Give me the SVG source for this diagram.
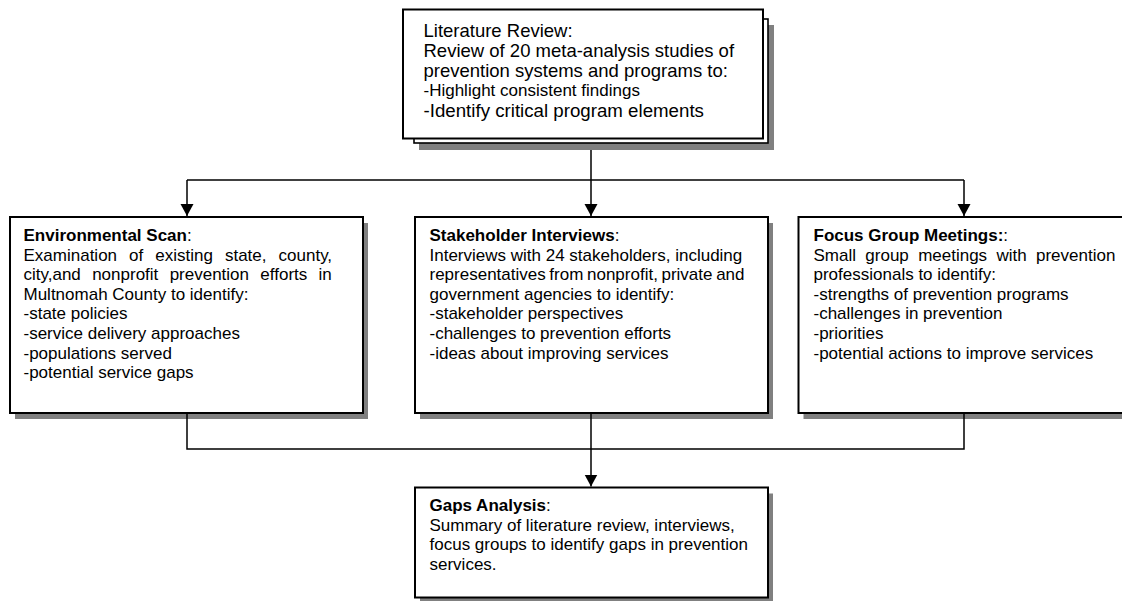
<svg xmlns="http://www.w3.org/2000/svg" width="1122" height="601" viewBox="0 0 1122 601">
<style>
.bg{fill:#fff}
.box{fill:#fff;stroke:#000;stroke-width:2}
.back{fill:#fff;stroke:#000;stroke-width:1.6}
.shadow{fill:#808080}
.t{font-family:"Liberation Sans",Arial,Helvetica,sans-serif;font-size:17px;fill:#000}
.b{font-weight:bold}
.conn{stroke:#000;stroke-width:1.5;fill:none}
</style>
<defs>
<marker id="arr" markerUnits="userSpaceOnUse" markerWidth="13" markerHeight="14" refX="12" refY="6.5" orient="auto">
<path d="M0,0 L12,6.5 L0,13 z" fill="#000"/>
</marker>
</defs>
<rect class="bg" x="0" y="0" width="1122" height="601"/>

<g id="lit-review">
<rect class="shadow" x="419" y="25" width="355" height="125"/>
<rect class="back" x="414" y="19" width="354" height="124"/>
<rect class="box" x="403" y="9.5" width="360" height="129"/>
<text class="t" x="423.5" y="37" style="font-size:18.5px">Literature Review:</text>
<text class="t" x="423.5" y="57" style="font-size:18.5px">Review of 20 meta-analysis studies of</text>
<text class="t" x="423.5" y="76.5" style="font-size:18.5px">prevention systems and programs to:</text>
<text class="t" x="423.5" y="96" style="font-size:17px">-Highlight consistent findings</text>
<text class="t" x="423.5" y="116.5" style="font-size:18.7px">-Identify critical program elements</text>
</g>

<g id="env-scan">
<rect class="shadow" x="15" y="223" width="353" height="196"/>
<rect class="box" x="10" y="217" width="353" height="196"/>
<text class="t" x="23.5" y="241"><tspan class="b">Environmental Scan</tspan>:</text>
<text class="t" x="23.5" y="260.6" word-spacing="7.3">Examination of existing state, county,</text>
<text class="t" x="23.5" y="280.2" word-spacing="6.6">city,and nonprofit prevention efforts in</text>
<text class="t" x="23.5" y="299.8">Multnomah County to identify:</text>
<text class="t" x="23.5" y="319.4">-state policies</text>
<text class="t" x="23.5" y="339">-service delivery approaches</text>
<text class="t" x="23.5" y="358.6">-populations served</text>
<text class="t" x="23.5" y="378.2">-potential service gaps</text>
</g>

<g id="stakeholder">
<rect class="shadow" x="420" y="223" width="353" height="196"/>
<rect class="box" x="415" y="217" width="353" height="196"/>
<text class="t" x="429.5" y="241"><tspan class="b">Stakeholder Interviews</tspan>:</text>
<text class="t" x="429.5" y="260.6">Interviews with 24 stakeholders, including</text>
<text class="t" x="429.5" y="280.2" word-spacing="-1.1">representatives from nonprofit, private and</text>
<text class="t" x="429.5" y="299.8">government agencies to identify:</text>
<text class="t" x="429.5" y="319.4">-stakeholder perspectives</text>
<text class="t" x="429.5" y="339">-challenges to prevention efforts</text>
<text class="t" x="429.5" y="358.6">-ideas about improving services</text>
</g>

<g id="focus-group">
<rect class="shadow" x="803.5" y="223" width="345" height="196"/>
<rect class="box" x="798.5" y="217" width="345" height="196"/>
<text class="t" x="813.5" y="241"><tspan class="b">Focus Group Meetings:</tspan>:</text>
<text class="t" x="813.5" y="260.6" word-spacing="4.6">Small group meetings with prevention</text>
<text class="t" x="813.5" y="280.2">professionals to identify:</text>
<text class="t" x="813.5" y="299.8">-strengths of prevention programs</text>
<text class="t" x="813.5" y="319.4">-challenges in prevention</text>
<text class="t" x="813.5" y="339">-priorities</text>
<text class="t" x="813.5" y="358.6">-potential actions to improve services</text>
</g>

<g id="gaps">
<rect class="shadow" x="420" y="493.5" width="353" height="110"/>
<rect class="box" x="415" y="487.5" width="353" height="110"/>
<text class="t" x="429.5" y="511"><tspan class="b">Gaps Analysis</tspan>:</text>
<text class="t" x="429.5" y="530.6">Summary of literature review, interviews,</text>
<text class="t" x="429.5" y="550.2">focus groups to identify gaps in prevention</text>
<text class="t" x="429.5" y="569.8">services.</text>
</g>

<g id="connectors">
<path class="conn" d="M591,150 V216" marker-end="url(#arr)"/>
<path class="conn" d="M187,180 H964"/>
<path class="conn" d="M187,180 V216" marker-end="url(#arr)"/>
<path class="conn" d="M964,180 V216" marker-end="url(#arr)"/>
<path class="conn" d="M187,413 V449 H964 V413"/>
<path class="conn" d="M591,413 V486.5" marker-end="url(#arr)"/>
</g>
</svg>
